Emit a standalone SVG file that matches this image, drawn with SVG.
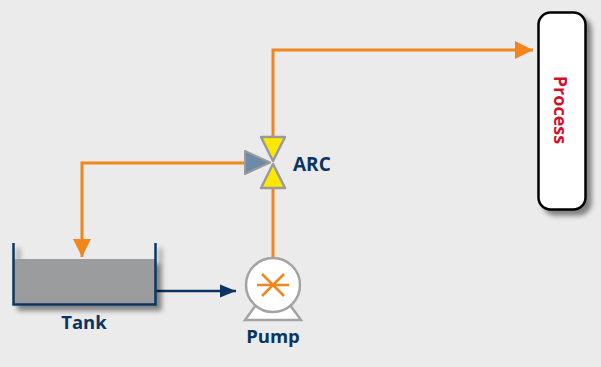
<svg xmlns="http://www.w3.org/2000/svg" width="601" height="367" viewBox="0 0 601 367">
<defs>
<style>
.pipe{fill:none;stroke:#f0861c;stroke-width:3}
.lbl{font-family:"Open Sans","Noto Sans",sans-serif;font-weight:bold;fill:#0b3560}
</style>
<filter id="sh" x="-20%" y="-20%" width="150%" height="150%">
<feDropShadow dx="5" dy="5" stdDeviation="2.5" flood-color="#000" flood-opacity="0.45"/>
</filter>
<marker id="ao" viewBox="0 0 10 10" refX="10" refY="5" markerWidth="6" markerHeight="6" orient="auto" markerUnits="strokeWidth"><path d="M0,0 L10,5 L0,10 z" fill="#f0861c"/></marker>
<marker id="an" viewBox="0 0 10 10" refX="10" refY="5" markerWidth="6.5" markerHeight="6.5" orient="auto" markerUnits="strokeWidth"><path d="M0,1 L10,5 L0,9 z" fill="#0b3560"/></marker>
</defs>
<rect width="601" height="367" fill="#ebebeb"/>
<g id="connectors">
<path class="pipe" d="M273,137 V50 H533" marker-end="url(#ao)"/>
<path class="pipe" d="M246,163 H82 V257" marker-end="url(#ao)"/>
<path class="pipe" d="M273,187 V258"/>
<path d="M156,291 H236" fill="none" stroke="#0b3560" stroke-width="2.5" marker-end="url(#an)"/>
</g>
<g id="tank">
<g filter="url(#sh)">
<rect x="14" y="259" width="141" height="45" fill="#9b9c9e"/>
<path d="M13.5,243 V304.5 H155.5 V243" fill="none" stroke="#0b3560" stroke-width="2.5"/>
</g>
<text class="lbl" x="84" y="329" font-size="18.5" text-anchor="middle">Tank</text>
</g>
<g id="pump">
<path d="M256,305 L290,305 L301,320 L245,320 Z" fill="#fff" stroke="#a3a3a3" stroke-width="2.5"/>
<circle cx="273" cy="285" r="27" fill="#fff" stroke="#a3a3a3" stroke-width="2.5"/>
<g stroke="#f0861c" stroke-width="2.5">
<line x1="257" y1="285" x2="289" y2="285"/>
<line x1="262" y1="274" x2="284" y2="296"/>
<line x1="262" y1="296" x2="284" y2="274"/>
</g>
<text class="lbl" x="273" y="343" font-size="18.5" text-anchor="middle">Pump</text>
</g>
<g id="arc">
<path d="M261,137 L285,137 L273,161 Z" fill="#ffe800" stroke="#9a9a9a" stroke-width="2.5" stroke-linejoin="round"/>
<path d="M261,188 L285,188 L273,164 Z" fill="#ffe800" stroke="#9a9a9a" stroke-width="2.5" stroke-linejoin="round"/>
<path d="M245,151 L270,162.5 L245,174 Z" fill="#6d8aa6" stroke="#9a9a9a" stroke-width="2" stroke-linejoin="round"/>
<text class="lbl" x="293" y="171" font-size="19">ARC</text>
</g>
<g id="process">
<rect x="538.5" y="12.5" width="47" height="197" rx="12" fill="#fff" stroke="#000" stroke-width="2.5" filter="url(#sh)"/>
<text x="561" y="110" font-family="'Open Sans','Noto Sans',sans-serif" font-weight="bold" font-size="18" fill="#d2102c" text-anchor="middle" dominant-baseline="central" transform="rotate(90 561 110)">Process</text>
</g>
</svg>
